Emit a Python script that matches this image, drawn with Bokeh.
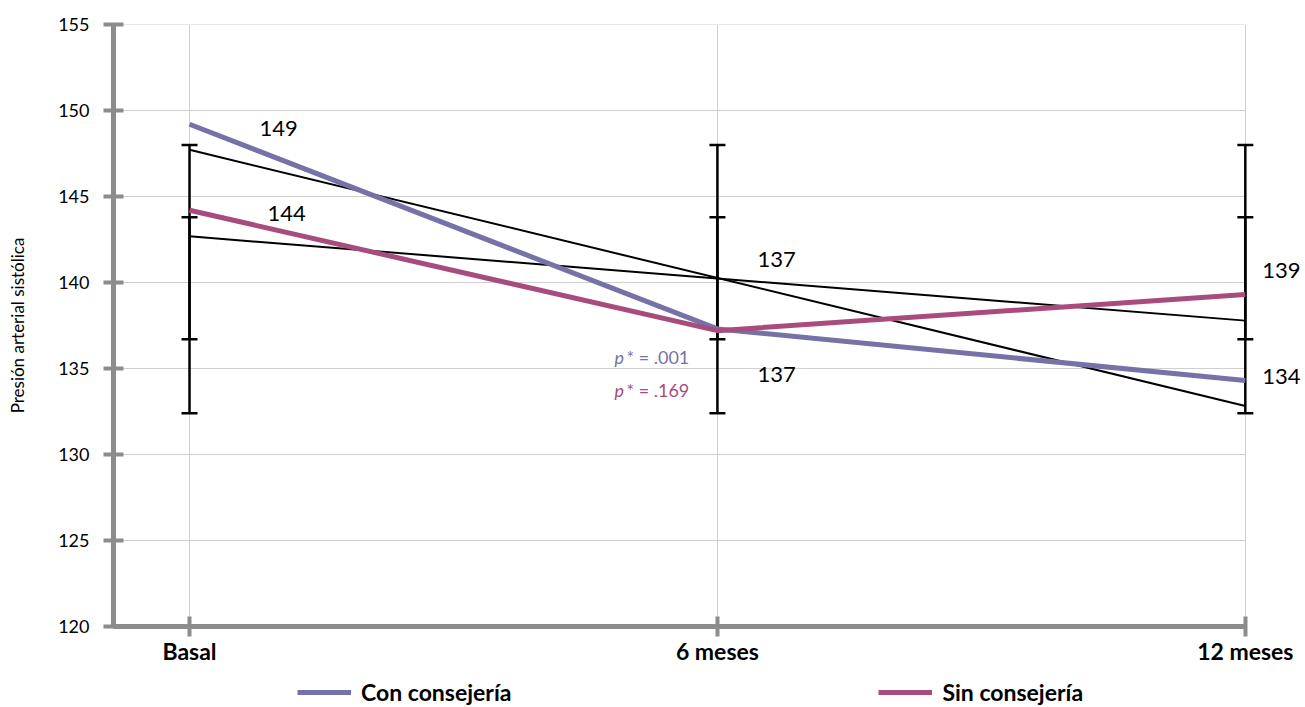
from bokeh.plotting import figure
from bokeh.layouts import column
from bokeh.models import (ColumnDataSource, FixedTicker, Whisker, TeeHead,
                          Legend, LegendItem)
from bokeh.core.properties import value
from bokeh.embed import file_html
from bokeh.resources import INLINE
import numpy as np

# ---- data -------------------------------------------------------------
stages = ["Basal", "6 meses", "12 meses"]
stage_x = [0, 1, 2]
con_consejeria = [149.2, 137.3, 134.3]
sin_consejeria = [144.2, 137.2, 139.3]

# error bars (same extent at every stage)
con_err_low = [132.4, 132.4, 132.4]
con_err_high = [148.0, 148.0, 148.0]
sin_err_low = [136.7, 136.7, 136.7]
sin_err_high = [143.8, 143.8, 143.8]

p_con = ".001"
p_sin = ".169"

y_ticks = [120, 125, 130, 135, 140, 145, 150, 155]

series_names = ["Con consejería", "Sin consejería"]

# ---- styling ----------------------------------------------------------
FONT = "Lato"
CON_COLOR = "#7672a8"
SIN_COLOR = "#a84c7d"
AXIS_GRAY = "#8c8c8c"
GRID_GRAY = "#d0d0d0"

X_START = -0.144   # left padding before the first stage
X_AXIS_END = 2.0
X_END = 2.114      # room on the right for the last labels

p = figure(width=1305, height=671, frame_width=1192, frame_height=602,
           output_backend="svg", toolbar_location=None,
           x_range=(X_START, X_END), y_range=(120, 155),
           min_border_left=113, min_border_right=0, min_border_top=24,
           min_border_bottom=45)
p.outline_line_color = None
p.background_fill_color = "white"
p.border_fill_color = "white"

# grid: vertical lines at the stages, horizontal lines stopping at the last stage
p.xgrid.ticker = FixedTicker(ticks=stage_x)
p.xgrid.grid_line_color = GRID_GRAY
p.xgrid.grid_line_width = 1
p.ygrid.visible = False
p.segment(x0=[X_START] * len(y_ticks), x1=[X_AXIS_END] * len(y_ticks),
          y0=y_ticks, y1=y_ticks, line_color=GRID_GRAY, line_width=1,
          level="underlay")

# axes
xa = p.xaxis[0]
xa.ticker = FixedTicker(ticks=stage_x)
xa.major_label_overrides = {x: s for x, s in zip(stage_x, stages)}
xa.bounds = (X_START, X_AXIS_END)
xa.major_label_text_font = FONT
xa.major_label_text_font_style = "bold"
xa.major_label_text_font_size = "23px"
xa.major_label_text_color = "black"
xa.major_label_standoff = 0

ya = p.yaxis[0]
ya.ticker = FixedTicker(ticks=y_ticks)
ya.bounds = (120, 155)
ya.major_label_text_font = FONT
ya.major_label_text_font_size = "18px"
ya.major_label_text_color = "black"
ya.major_label_standoff = 14
ya.axis_label = "Presión arterial sistólica"
ya.axis_label_text_font = FONT
ya.axis_label_text_font_size = "17px"
ya.axis_label_text_font_style = "normal"
ya.axis_label_text_color = "black"
ya.axis_label_standoff = 27

for ax in (xa, ya):
    ax.axis_line_color = AXIS_GRAY
    ax.axis_line_width = 5
    ax.major_tick_line_color = AXIS_GRAY
    ax.major_tick_line_width = 4
    ax.major_tick_in = 10
    ax.major_tick_out = 10
    ax.minor_tick_line_color = None

# error bars
for low, high in ((con_err_low, con_err_high), (sin_err_low, sin_err_high)):
    src = ColumnDataSource(dict(x=stage_x, lower=low, upper=high))
    p.add_layout(Whisker(source=src, base="x", lower="lower", upper="upper",
                         dimension="height", line_color="black", line_width=2.5,
                         upper_head=TeeHead(size=16, line_color="black", line_width=2.5),
                         lower_head=TeeHead(size=16, line_color="black", line_width=2.5)))

# linear trend of each series
for series in (con_consejeria, sin_consejeria):
    slope, intercept = np.polyfit(stage_x, series, 1)
    xs = [stage_x[0], stage_x[-1]]
    p.line(xs, [intercept + slope * x for x in xs], line_color="black", line_width=2)

# series lines
p.line(stage_x, con_consejeria, line_color=CON_COLOR, line_width=5)
p.line(stage_x, sin_consejeria, line_color=SIN_COLOR, line_width=5)

# value labels
con_src = ColumnDataSource(dict(
    x=stage_x, y=con_consejeria,
    txt=[f"{v:.0f}" for v in con_consejeria],
    dx=[70, 40, 17], dy=[4, 46, -4]))
sin_src = ColumnDataSource(dict(
    x=stage_x, y=sin_consejeria,
    txt=[f"{v:.0f}" for v in sin_consejeria],
    dx=[78, 40, 17], dy=[3, -71, -24]))
for src in (con_src, sin_src):
    p.text(x="x", y="y", text="txt", x_offset="dx", y_offset="dy", source=src,
           text_font=value(FONT), text_font_size="22px", text_color="black",
           text_align="left", text_baseline="middle")

# significance notes beside the 6-month point
for txt, dy, color in ((p_con, 28, CON_COLOR), (p_sin, 61, SIN_COLOR)):
    p.text(x=[1], y=[con_consejeria[1]], text=["p"], x_offset=-103, y_offset=dy,
           text_font=value(FONT), text_font_style="italic", text_font_size="18px",
           text_color=color, text_align="left", text_baseline="middle")
    p.text(x=[1], y=[con_consejeria[1]], text=[f"* = {txt}"], x_offset=-91, y_offset=dy,
           text_font=value(FONT), text_font_size="18px",
           text_color=color, text_align="left", text_baseline="middle")

# ---- legend strip under the chart ------------------------------------
# the strip's ranges keep its own copies of the series out of view;
# they only supply the legend swatches
leg_fig = figure(width=1305, height=36, output_backend="svg", toolbar_location=None,
                 min_border=0, x_range=(0, 1), y_range=(0, 1))
leg_fig.outline_line_color = None
leg_fig.axis.visible = False
leg_fig.grid.visible = False
leg_fig.background_fill_color = "white"
leg_fig.border_fill_color = "white"

leg_con = leg_fig.line(stage_x, con_consejeria, line_color=CON_COLOR, line_width=5)
leg_sin = leg_fig.line(stage_x, sin_consejeria, line_color=SIN_COLOR, line_width=5)

legend = Legend(items=[LegendItem(label=series_names[0], renderers=[leg_con]),
                       LegendItem(label=series_names[1], renderers=[leg_sin])],
                orientation="horizontal", location=(184, 1),
                glyph_width=54, glyph_height=20, label_height=20,
                label_standoff=10, spacing=367,
                padding=0, margin=0, border_line_color=None,
                background_fill_alpha=0,
                label_text_font=FONT, label_text_font_style="bold",
                label_text_font_size="23px", label_text_color="black")
leg_fig.add_layout(legend, "center")

layout = column(p, leg_fig, spacing=0)

open("out.html", "w").write(file_html(layout, INLINE))
